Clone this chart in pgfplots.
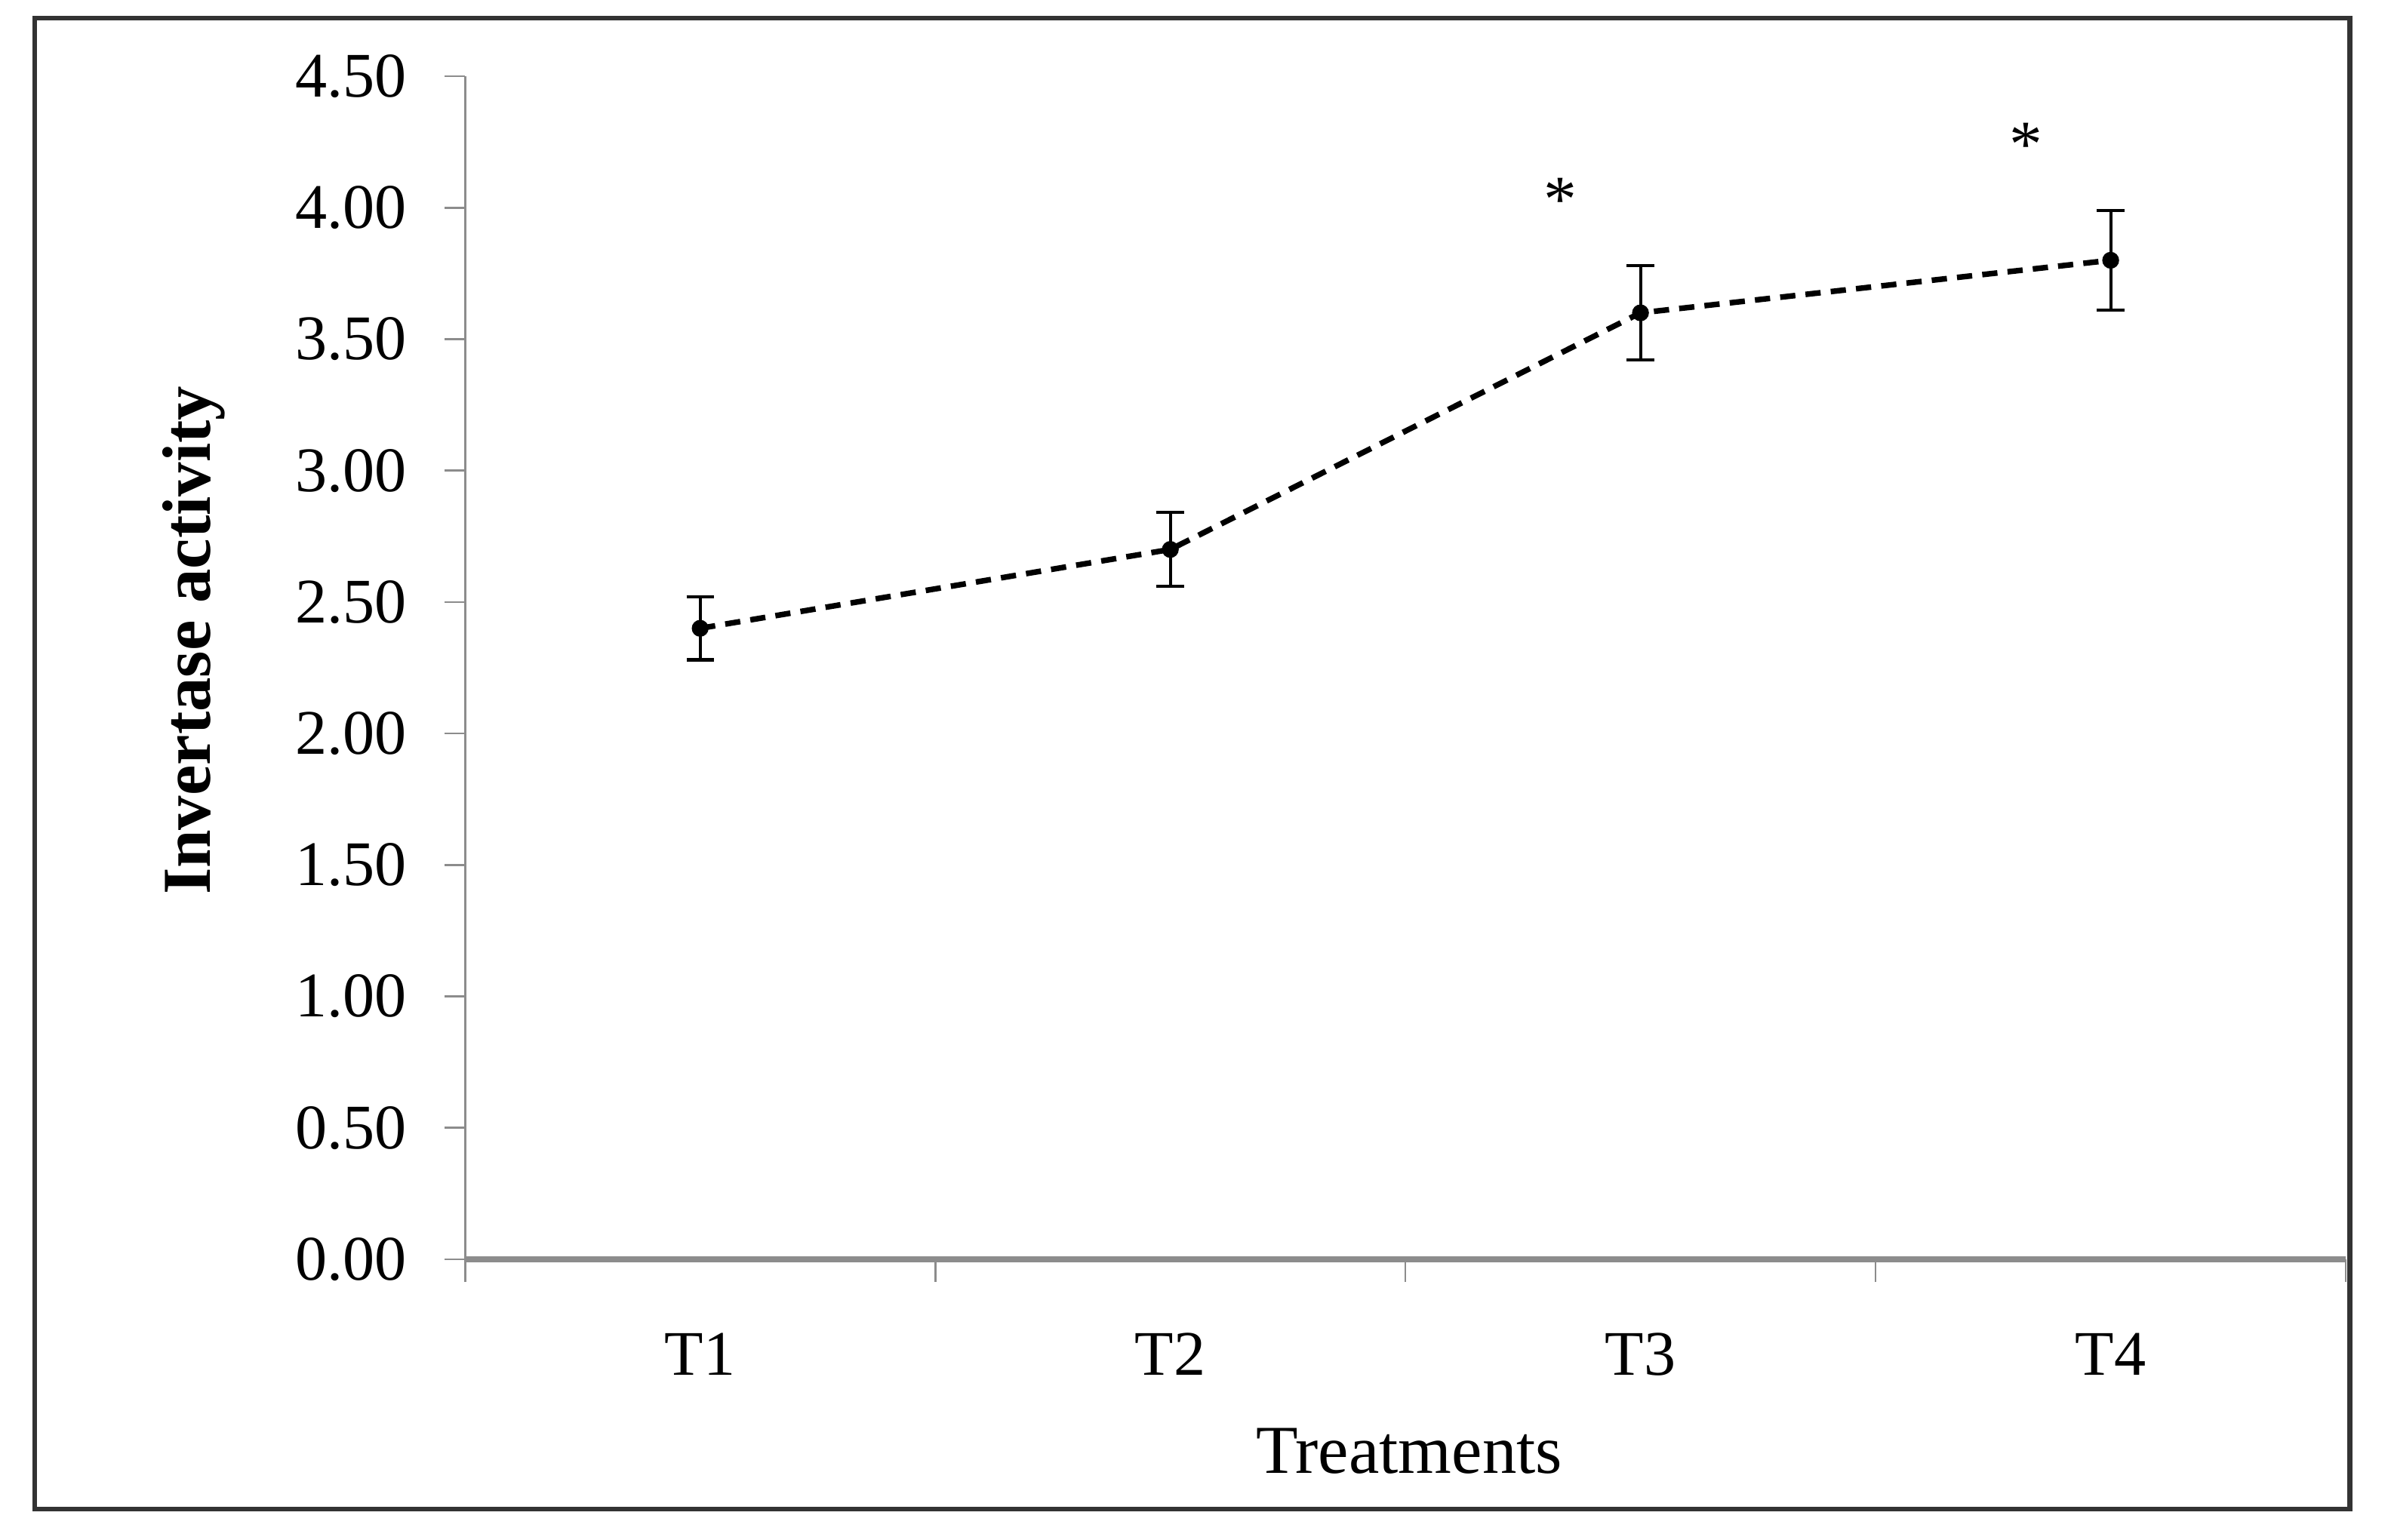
\documentclass[border=0pt]{standalone}
\usepackage{fontspec}
\setmainfont{Liberation Serif}
\usepackage{pgfplots}
\pgfplotsset{compat=1.18}
\begin{document}
\begin{tikzpicture}[x=1pt,y=1pt]
% page and outer frame
\path[use as bounding box] (-91.5,-55.2) rectangle (378.9,247.8);
\draw[line width=0.9pt, black!80] (-84.6,-49.2) rectangle (370.8,244.2);
\begin{axis}[
  at={(0,0)}, anchor=south west,
  scale only axis, width=370pt, height=232.8pt,
  xmin=0.5, xmax=4.5, ymin=0, ymax=4.5,
  axis lines*=left,
  x axis line style={line width=1.3pt, black!45},
  y axis line style={line width=0.4pt, black!45},
  xtick={1,2,3,4}, xticklabels={T1,T2,T3,T4},
  major x tick style={draw=none},
  minor xtick={0.5,1.5,2.5,3.5,4.5},
  minor x tick style={line width=0.4pt, black!45},
  minor tick length=4.5pt,
  ytick={0,0.5,...,4.5},
  major y tick style={line width=0.4pt, black!45},
  major tick length=4pt,
  tick align=outside,
  yticklabel style={/pgf/number format/.cd, fixed, fixed zerofill, precision=2, /tikz/.cd, xshift=-4pt},
  /pgf/number format/assume math mode=true,
  ticklabel style={font=\fontsize{12.5}{14}\selectfont},
  xticklabel style={yshift=-7pt},
  xlabel={Treatments},
  ylabel={\textbf{Invertase activity}},
  every axis x label/.style={at={(axis description cs:0.502,-0.1624)}, anchor=center, font=\fontsize{13.5}{15}\selectfont},
  every axis y label/.style={at={(axis description cs:-0.1443,0.523)}, anchor=center, rotate=90, font=\fontsize{13.5}{15}\selectfont},
  clip=false,
]
\addplot[black, line width=1.1pt, dash pattern=on 3pt off 2pt,
  mark=*, mark size=1.1pt, mark options={solid},
  error bars/.cd, y dir=both, y explicit,
  error bar style={line width=0.6pt, solid},
  error mark options={rotate=90, mark size=2.7pt, line width=0.6pt, solid}]
coordinates {
(1,2.40) +- (0,0.12)
(2,2.70) +- (0,0.14)
(3,3.60) +- (0,0.18)
(4,3.80) +- (0,0.19)
};
\node[font=\fontsize{13}{15}\selectfont] at (axis cs:2.83,4.03) {*};
\node[font=\fontsize{13}{15}\selectfont] at (axis cs:3.82,4.24) {*};
\end{axis}
\end{tikzpicture}
\end{document}
